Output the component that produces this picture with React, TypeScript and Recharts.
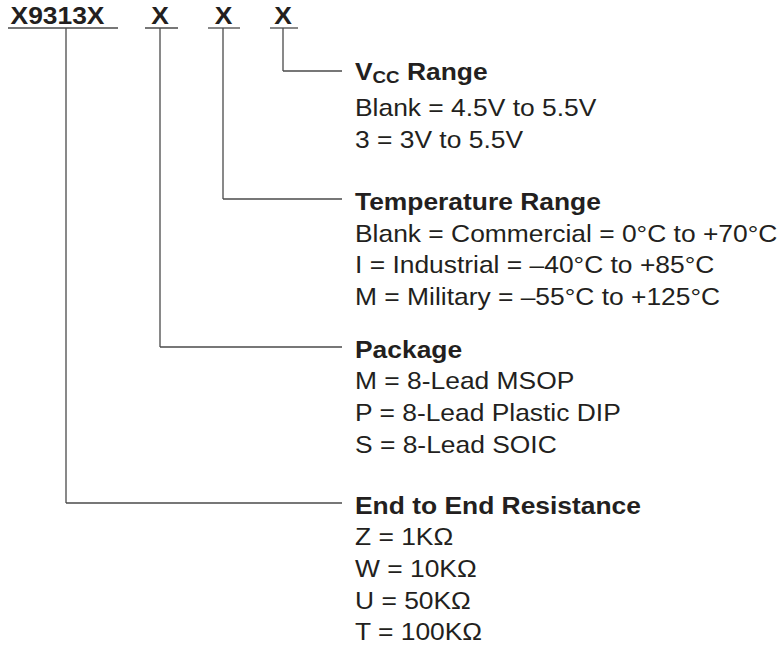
import React from 'react';
import { ComposedChart, XAxis, YAxis, Scatter, ReferenceLine } from 'recharts';

const W = 780;
const H = 645;

// Part-number code fields (top row)
const partLabels = ['X9313X', 'X', 'X', 'X'];
const partLabelX = [57.5, 160, 223.5, 283];
const underlineStart = [8, 145, 208, 270];
const underlineEnd = [118, 178, 240, 298];
const stemX = [66, 160, 223, 283];
const titleBaseY = 24;
const underlineY = 28;

// Branch for each code field (same order as partLabels)
const branchY = [503, 347, 199, 71];
const branchEndX = 342;

// Description groups (top to bottom), group i belongs to code field 3 - i
const groupX = 355;
const groupTitles = ['VCC Range', 'Temperature Range', 'Package', 'End to End Resistance'];
const groupTitleY = [80, 210, 358, 514];
const groupOptions = [
  ['Blank = 4.5V to 5.5V', '3 = 3V to 5.5V'],
  [
    'Blank = Commercial = 0°C to +70°C',
    'I = Industrial = –40°C to +85°C',
    'M = Military = –55°C to +125°C',
  ],
  ['M = 8-Lead MSOP', 'P = 8-Lead Plastic DIP', 'S = 8-Lead SOIC'],
  ['Z = 1KΩ', 'W = 10KΩ', 'U = 50KΩ', 'T = 100KΩ'],
];
const groupOptionY = [
  [116, 148],
  [241.5, 273, 304.5],
  [389, 421, 452.5],
  [545, 577, 608.5, 640],
];

const FONT = '"Liberation Sans", Arial, Helvetica, sans-serif';
const TEXT_COLOR = '#231f20';
const LINE_COLOR = '#4a4a4a';

type TextRow = { x: number; y: number; text: string; kind: 'code' | 'title' | 'option' };

const textRows: TextRow[] = [];
partLabels.forEach((t, i) => textRows.push({ x: partLabelX[i], y: titleBaseY, text: t, kind: 'code' }));
groupTitles.forEach((t, g) => {
  textRows.push({ x: groupX, y: groupTitleY[g], text: t, kind: 'title' });
  groupOptions[g].forEach((o, j) =>
    textRows.push({ x: groupX, y: groupOptionY[g][j], text: o, kind: 'option' })
  );
});

type Seg = { x1: number; y1: number; x2: number; y2: number };
const segments: Seg[] = [];
partLabels.forEach((_, i) => {
  segments.push({ x1: underlineStart[i], y1: underlineY, x2: underlineEnd[i], y2: underlineY });
  segments.push({ x1: stemX[i], y1: underlineY, x2: stemX[i], y2: branchY[i] });
  segments.push({ x1: stemX[i], y1: branchY[i], x2: branchEndX, y2: branchY[i] });
});

const TextMark = (p: any) => {
  const { cx, cy, payload } = p;
  if (cx == null || cy == null) return null;
  const row: TextRow = payload;
  const bold = row.kind !== 'option';
  const anchor = row.kind === 'code' ? 'middle' : 'start';
  const common = {
    x: 0,
    y: 0,
    transform: `translate(${cx},${cy}) scale(1.1,1)`,
    fontFamily: FONT,
    fontSize: 24,
    fontWeight: bold ? 700 : 400,
    fill: TEXT_COLOR,
    textAnchor: anchor as any,
  };
  if (row.text.startsWith('VCC')) {
    return (
      <text {...common}>
        <tspan>V</tspan>
        <tspan fontSize={17} dy={3}>CC</tspan>
        <tspan dy={-3}>{row.text.slice(3)}</tspan>
      </text>
    );
  }
  return <text {...common}>{row.text}</text>;
};

export default function App() {
  return (
    <div style={{ position: 'absolute', left: 0, top: 0, width: W, height: H, background: '#fff' }}>
      <ComposedChart width={W} height={H} margin={{ top: 0, right: 0, bottom: 0, left: 0 }}>
        <XAxis type="number" dataKey="x" domain={[0, W]} hide allowDataOverflow />
        <YAxis type="number" dataKey="y" domain={[0, H]} reversed hide allowDataOverflow />
        {segments.map((s, i) => (
          <ReferenceLine
            key={`seg-${i}`}
            segment={[
              { x: s.x1, y: s.y1 },
              { x: s.x2, y: s.y2 },
            ]}
            stroke={LINE_COLOR}
            strokeWidth={1.3}
            ifOverflow="visible"
          />
        ))}
        <Scatter
          data={textRows}
          dataKey="y"
          isAnimationActive={false}
          shape={(p: any) => <TextMark {...p} />}
        />
      </ComposedChart>
    </div>
  );
}
